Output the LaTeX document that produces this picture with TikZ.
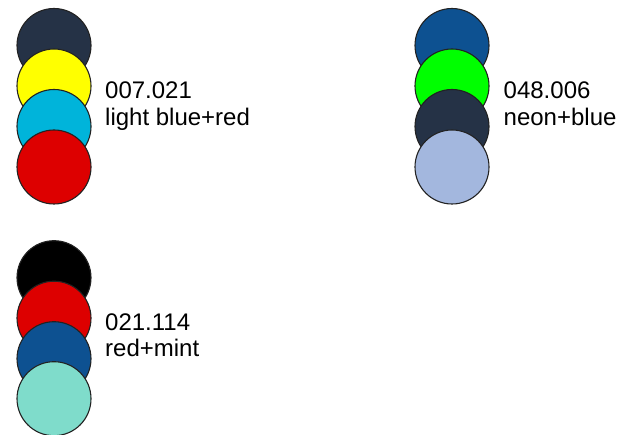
\documentclass[tikz,border=0pt]{standalone}
\usepackage{fontspec}
\setmainfont{Liberation Sans}
\definecolor{navy}{HTML}{253246}
\definecolor{yel}{HTML}{FFFF00}
\definecolor{cyanb}{HTML}{00B4DA}
\definecolor{redc}{HTML}{DD0000}
\definecolor{blue2}{HTML}{0D5191}
\definecolor{neon}{HTML}{00FF00}
\definecolor{lblue}{HTML}{A3B7DE}
\definecolor{mint}{HTML}{7FDCCB}
\definecolor{edge}{HTML}{222222}
\begin{document}
\begin{tikzpicture}[x=1pt,y=-1pt,
  dot/.style={circle,draw=edge,line width=1.1pt,minimum size=74pt,inner sep=0pt},
  lbl/.style={anchor=base west,inner sep=0pt,font=\fontsize{24}{27}\selectfont,text=black}]
\useasboundingbox (0,0) rectangle (620,435);
% group 1
\node[dot,fill=navy]  (a1) at (54,45.5) {};
\node[dot,fill=yel]   (a2) at (54,86) {};
\node[dot,fill=cyanb] (a3) at (54,126.5) {};
\node[dot,fill=redc]  (a4) at (54,167) {};
\node[lbl] (ta1) at (105,99) {007.021};
\node[lbl] (ta2) at (105,125.5) {light blue+red};
% group 2
\node[dot,fill=blue2] (b1) at (452,45.5) {};
\node[dot,fill=neon]  (b2) at (452,86) {};
\node[dot,fill=navy]  (b3) at (452,126.5) {};
\node[dot,fill=lblue] (b4) at (452,167) {};
\node[lbl] (tb1) at (503.5,99) {048.006};
\node[lbl] (tb2) at (503.5,125.5) {neon+blue};
% group 3
\node[dot,fill=black] (c1) at (54,277.7) {};
\node[dot,fill=redc]  (c2) at (54,318.2) {};
\node[dot,fill=blue2] (c3) at (54,358.7) {};
\node[dot,fill=mint]  (c4) at (54,398.7) {};
\node[lbl] (tc1) at (105,330) {021.114};
\node[lbl] (tc2) at (105,356.5) {red+mint};
\end{tikzpicture}
\end{document}
